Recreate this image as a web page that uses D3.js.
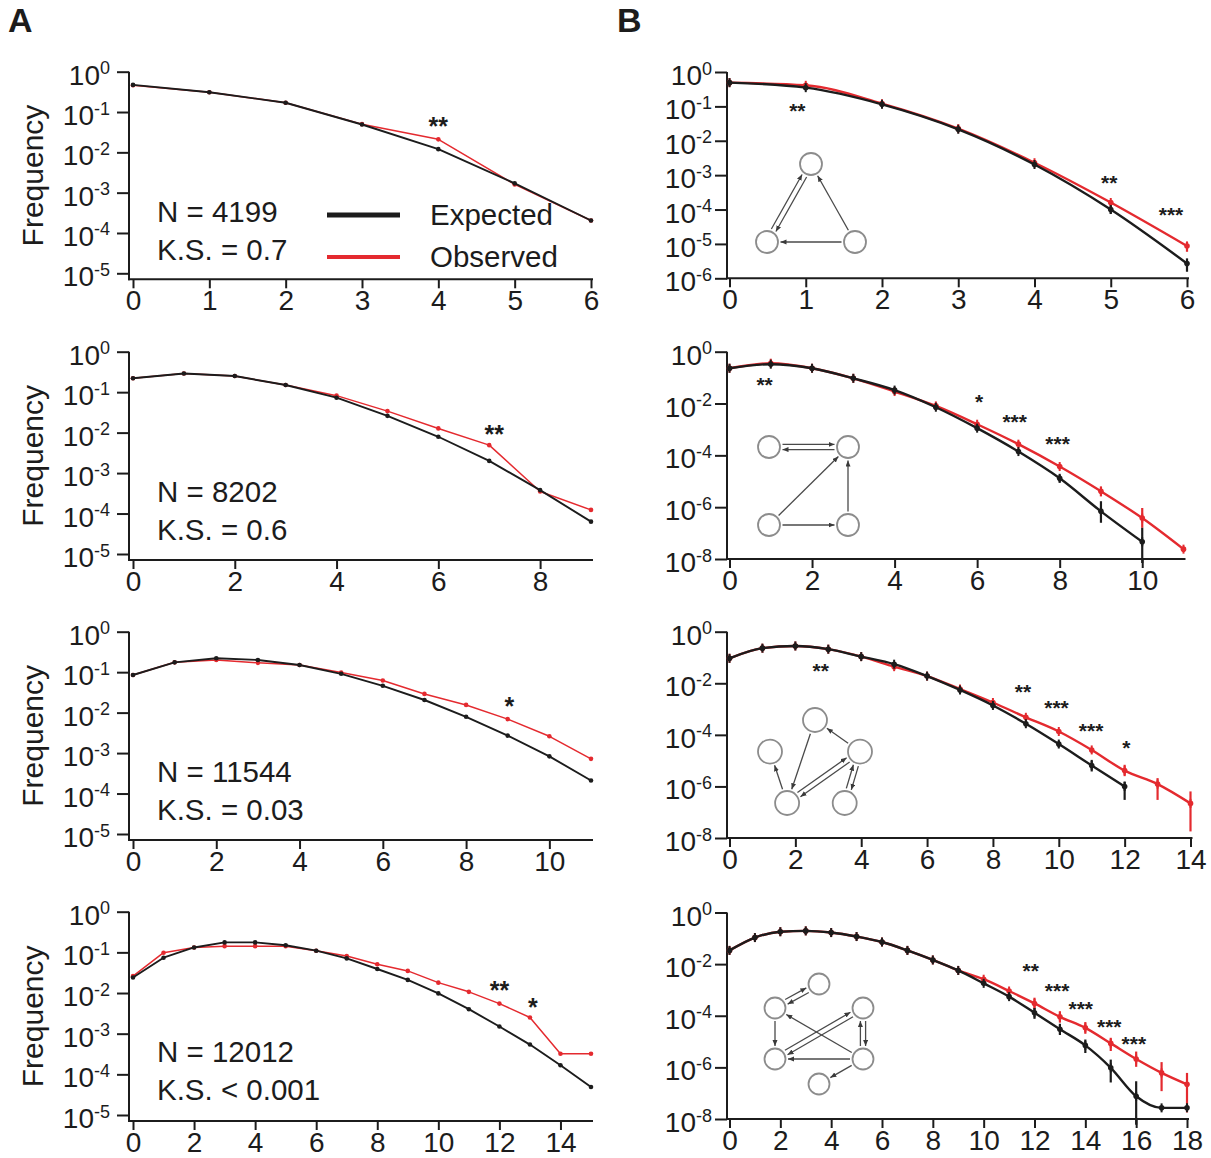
<!DOCTYPE html>
<html>
<head>
<meta charset="utf-8">
<script src="https://cdn.jsdelivr.net/npm/d3@7"></script>
<style>
  body { margin: 0; background: #fff; }
  text { font-family: "Liberation Sans", Arial, sans-serif; fill: #1c1c1c; }
</style>
</head>
<body>
<svg id="chart" width="1211" height="1158"></svg>
<script>
// ---- Data: frequency of each count, expected (null model) vs observed ----
const a1Expected = [0.47, 0.31, 0.17, 0.049, 0.012, 0.0017, 0.000204];
const a1Observed = [0.46, 0.31, 0.17, 0.050, 0.021, 0.0016, 0.000204];

const a2Expected = [0.22, 0.29, 0.25, 0.15, 0.073, 0.026, 0.0079, 0.0020, 0.00038, 0.000063];
const a2Observed = [0.22, 0.29, 0.25, 0.15, 0.082, 0.034, 0.0127, 0.0049, 0.00035, 0.000123];

const a3Expected = [0.085, 0.175, 0.22, 0.20, 0.15, 0.091, 0.046, 0.0205, 0.0079, 0.0027, 0.00083, 0.00021];
const a3Observed = [0.085, 0.175, 0.20, 0.17, 0.15, 0.098, 0.062, 0.029, 0.0155, 0.0069, 0.0026, 0.00072];

const a4Expected = [0.024, 0.074, 0.132, 0.176, 0.176, 0.15, 0.11, 0.071, 0.039, 0.021, 0.0098, 0.004, 0.0015, 0.00054, 0.000167, 0.000049];
const a4Observed = [0.026, 0.098, 0.132, 0.142, 0.142, 0.142, 0.11, 0.081, 0.051, 0.035, 0.018, 0.0107, 0.0055, 0.0025, 0.00032, 0.00032];

const b1Expected = [0.49, 0.35, 0.115, 0.0216, 0.00204, 1.0e-4, 2.7e-6];
const b1Observed = [0.49, 0.41, 0.12, 0.0225, 0.0023, 1.6e-4, 8.7e-6];

const b2Expected = [0.23, 0.33, 0.23, 0.094, 0.033, 0.0072, 0.00112, 1.4e-4, 1.3e-5, 6.9e-7, 4.6e-8];
const b2Observed = [0.23, 0.36, 0.23, 0.094, 0.029, 0.0081, 0.00159, 2.7e-4, 3.7e-5, 4.1e-6, 3.8e-7, 2.4e-8];

const b3Expected = [0.093, 0.23, 0.28, 0.21, 0.108, 0.055, 0.019, 0.0055, 0.00138, 2.7e-4, 4.4e-5, 6.5e-6, 1.0e-6];
const b3Observed = [0.093, 0.23, 0.28, 0.21, 0.108, 0.044, 0.019, 0.006, 0.0018, 4.8e-4, 1.35e-4, 2.6e-5, 4.1e-6, 1.23e-6, 2.2e-7];

const b4Expected = [0.034, 0.107, 0.18, 0.194, 0.167, 0.117, 0.072, 0.034, 0.0145, 0.0057, 0.0018, 5.5e-4, 1.3e-4, 3.0e-5, 7.1e-6, 9.6e-7, 7.6e-8, 2.7e-8, 2.7e-8];
const b4Observed = [0.034, 0.107, 0.18, 0.194, 0.167, 0.117, 0.072, 0.034, 0.0145, 0.0057, 0.0026, 9.1e-4, 3.0e-4, 9.1e-5, 3.4e-5, 8.5e-6, 2.1e-6, 6.1e-7, 2.2e-7];

// ---- Error ranges [low, high] (null where the bar is hidden by the marker) ----
const b1ExpectedErr = [null, null, null, null, null, [7.5e-5, 1.3e-4], [1.55e-6, 3.8e-6]];
const b1ObservedErr = [null, null, null, null, null, null, [5.9e-6, 1.15e-5]];

const b2ExpectedErr = [null, null, null, null, null, null, null, null, [9e-6, 1.8e-5], [2.5e-7, 1.7e-6], [7e-9, 1.6e-7]];
const b2ObservedErr = [null, null, null, null, null, null, null, null, null, [2.6e-6, 6.3e-6], [1.6e-7, 9.3e-7], null];

const b3ExpectedErr = [null, null, null, null, null, null, null, null, null, null, [3.3e-5, 5.8e-5], [3.8e-6, 1.07e-5], [3.0e-7, 1.55e-6]];
const b3ObservedErr = [null, null, null, null, null, null, null, null, null, null, null, null, [2.5e-6, 6.9e-6], [3.0e-7, 2.1e-6], [1.8e-8, 6.4e-7]];

const b4ExpectedErr = [null, null, null, null, null, null, null, null, null, null, null, null, [7.6e-5, 2.0e-4], [1.8e-5, 4.9e-5], [3.6e-6, 1.2e-5], [2.6e-7, 2.0e-6], [6e-9, 2.9e-7], null, null];
const b4ObservedErr = [null, null, null, null, null, null, null, null, null, null, null, null, [1.8e-4, 5e-4], [5.4e-5, 1.5e-4], [2.0e-5, 5.7e-5], [4.3e-6, 1.4e-5], [1.05e-6, 4.1e-6], [1.2e-7, 1.6e-6], [1.8e-8, 6.1e-7]];

// ---- Significance marks: [count, frequency level, label] ----
const a1Stars = [[4, 0.060, "**"]];
const a2Stars = [[7.1, 0.013, "**"]];
const a3Stars = [[9.04, 0.0205, "*"]];
const a4Stars = [[12.0, 0.0166, "**"], [13.1, 0.0063, "*"]];
const b1Stars = [[0.89, 0.102, "**"], [4.98, 8.1e-4, "**"], [5.79, 9.8e-5, "***"]];
const b2Stars = [[0.85, 0.085, "**"], [6.05, 0.0186, "*"], [6.91, 3.2e-3, "***"], [7.95, 4.4e-4, "***"]];
const b3Stars = [[2.77, 0.047, "**"], [8.91, 7.4e-3, "**"], [9.93, 1.7e-3, "***"], [10.98, 2.2e-4, "***"], [12.05, 4.8e-5, "*"]];
const b4Stars = [[11.85, 8.5e-3, "**"], [12.89, 1.4e-3, "***"], [13.82, 3.0e-4, "***"], [14.94, 5.9e-5, "***"], [15.91, 1.3e-5, "***"]];

// ---- Tick labels ----
const aYTicks = [1, 1e-1, 1e-2, 1e-3, 1e-4, 1e-5];
const b1YTicks = [1, 1e-1, 1e-2, 1e-3, 1e-4, 1e-5, 1e-6];
const bYTicks = [1, 1e-2, 1e-4, 1e-6, 1e-8];

const sampleSizes = ["N = 4199", "N = 8202", "N = 11544", "N = 12012"];
const ksValues = ["K.S. = 0.7", "K.S. = 0.6", "K.S. = 0.03", "K.S. < 0.001"];
const legendLabels = ["Expected", "Observed"];

const RED = "#e42a2f";
const BLACK = "#1c1c1c";

// ---- Panel geometry ----
const colA = { axisX: 129, x0: 133, x1: [591, 591, 591, 591], top: [71.7, 351.7, 631.7, 911.7], bottom: [273.3, 554, 834, 1115], gap: 6, labelX: 110 };
const colB = { axisX: 727, x0: 729.5, x1: [1187, 1183.5, 1190.5, 1187], top: [72, 351.7, 631.7, 912.5], bottom: [278.3, 559, 838, 1119], gap: 0, labelX: 712 };

const panels = [
  { col: "A", row: 0, xMax: 6, xStep: 1, yMin: 1e-5, yTicks: aYTicks, exp: a1Expected, obs: a1Observed, stars: a1Stars },
  { col: "A", row: 1, xMax: 9, xStep: 2, yMin: 1e-5, yTicks: aYTicks, exp: a2Expected, obs: a2Observed, stars: a2Stars },
  { col: "A", row: 2, xMax: 11, xStep: 2, yMin: 1e-5, yTicks: aYTicks, exp: a3Expected, obs: a3Observed, stars: a3Stars },
  { col: "A", row: 3, xMax: 15, xStep: 2, yMin: 1e-5, yTicks: aYTicks, exp: a4Expected, obs: a4Observed, stars: a4Stars },
  { col: "B", row: 0, xMax: 6, xStep: 1, yMin: 1e-6, yTicks: b1YTicks, exp: b1Expected, obs: b1Observed, expErr: b1ExpectedErr, obsErr: b1ObservedErr, stars: b1Stars },
  { col: "B", row: 1, xMax: 11, xStep: 2, yMin: 1e-8, yTicks: bYTicks, exp: b2Expected, obs: b2Observed, expErr: b2ExpectedErr, obsErr: b2ObservedErr, stars: b2Stars },
  { col: "B", row: 2, xMax: 14, xStep: 2, yMin: 1e-8, yTicks: bYTicks, exp: b3Expected, obs: b3Observed, expErr: b3ExpectedErr, obsErr: b3ObservedErr, stars: b3Stars },
  { col: "B", row: 3, xMax: 18, xStep: 2, yMin: 1e-8, yTicks: bYTicks, exp: b4Expected, obs: b4Observed, expErr: b4ExpectedErr, obsErr: b4ObservedErr, stars: b4Stars }
];

// ---- Motif diagrams drawn inside the B panels (unit-square node layout) ----
const motifs = [
  { x: 767, y: 164, w: 88, h: 78, r: 11,
    nodes: { top: [0.5, 0], left: [0, 1], right: [1, 1] },
    edges: [["left", "top", true], ["right", "top"], ["right", "left"]] },
  { x: 769, y: 447, w: 79, h: 78, r: 11,
    nodes: { tl: [0, 0], tr: [1, 0], bl: [0, 1], br: [1, 1] },
    edges: [["tl", "tr", true], ["bl", "tr"], ["br", "tr"], ["bl", "br"]] },
  { x: 770, y: 720, w: 90, h: 83, r: 12,
    nodes: { top: [0.5, 0], left: [0, 0.38], right: [1, 0.38], bl: [0.19, 1], br: [0.83, 1] },
    edges: [["right", "top"], ["top", "bl"], ["bl", "left"], ["bl", "right", true], ["right", "br", true]] },
  { x: 775, y: 984, w: 88, h: 100, r: 10.5,
    nodes: { top: [0.5, 0], ul: [0, 0.24], ur: [1, 0.24], ll: [0, 0.75], lr: [1, 0.75], bot: [0.5, 1] },
    edges: [["ul", "top", true], ["ul", "ll"], ["lr", "ul"], ["ll", "ur", true], ["ur", "lr", true], ["lr", "ll"], ["lr", "bot"]] }
];

const svg = d3.select("#chart");

const defs = svg.append("defs");
defs.append("marker")
  .attr("id", "arrowhead")
  .attr("markerUnits", "userSpaceOnUse")
  .attr("markerWidth", 7).attr("markerHeight", 6)
  .attr("refX", 6).attr("refY", 2.5)
  .attr("orient", "auto-start-reverse")
  .append("path").attr("d", "M0,0 L6,2.5 L0,5 Z").attr("fill", "#3a3a3a");

function drawPanel(p) {
  const L = p.col === "A" ? colA : colB;
  const top = L.top[p.row], bottom = L.bottom[p.row];
  const xEnd = L.x1[p.row];
  const x = d3.scaleLinear().domain([0, p.xMax]).range([L.x0, xEnd]);
  const y = d3.scaleLog().domain([p.yMin, 1]).range([bottom, top]);
  const axisY = bottom + L.gap;
  const g = svg.append("g");

  // Axis lines
  g.append("line").attr("x1", L.axisX).attr("x2", L.axisX).attr("y1", top).attr("y2", axisY + 1)
    .attr("stroke", BLACK).attr("stroke-width", 2);
  g.append("line").attr("x1", L.axisX - 1).attr("x2", xEnd + 2).attr("y1", axisY).attr("y2", axisY)
    .attr("stroke", BLACK).attr("stroke-width", 2);

  // Y axis ticks with power-of-ten labels
  g.append("g").attr("transform", `translate(${L.axisX},0)`)
    .call(d3.axisLeft(y).tickValues(p.yTicks).tickSize(12).tickFormat(() => ""))
    .call(s => { s.select(".domain").remove(); s.selectAll("line").attr("stroke", BLACK).attr("stroke-width", 2); });
  p.yTicks.forEach(v => {
    const t = g.append("text").attr("x", L.labelX).attr("y", y(v) + 13)
      .attr("text-anchor", "end").attr("font-size", 28);
    t.append("tspan").text("10");
    t.append("tspan").attr("dy", -10.5).attr("font-size", 18).text(String(Math.round(Math.log10(v))));
  });

  // X axis ticks
  g.append("g").attr("transform", `translate(0,${axisY})`)
    .call(d3.axisBottom(x).tickValues(d3.range(0, p.xMax + 0.001, p.xStep)).tickSize(9).tickFormat(d3.format("d")))
    .call(s => {
      s.select(".domain").remove();
      s.selectAll("line").attr("stroke", BLACK).attr("stroke-width", 2);
      s.selectAll("text").attr("font-size", 28).attr("font-family", '"Liberation Sans", Arial, sans-serif')
        .attr("fill", BLACK).attr("y", 31).attr("dy", 0);
    });

  const curve = p.col === "B" ? d3.curveMonotoneX : d3.curveLinear;
  const line = d3.line().x((d, i) => x(i)).y(d => y(d)).curve(curve);
  const lw = p.col === "B" ? 2.4 : 1.9;

  const series = [
    { vals: p.obs, err: p.obsErr, color: RED, w: p.col === "B" ? lw : 1.5 },
    { vals: p.exp, err: p.expErr, color: BLACK, w: lw }
  ];
  series.forEach(s => {
    g.append("path").datum(s.vals).attr("d", line).attr("fill", "none")
      .attr("stroke", s.color).attr("stroke-width", s.w).attr("stroke-linejoin", "round");
    if (s.err) {
      s.err.forEach((e, i) => {
        if (!e) return;
        g.append("line").attr("x1", x(i)).attr("x2", x(i)).attr("y1", y(e[0])).attr("y2", y(e[1]))
          .attr("stroke", s.color).attr("stroke-width", 2.2);
      });
    }
    g.selectAll(null).data(s.vals).join("circle")
      .attr("cx", (d, i) => x(i)).attr("cy", d => y(d)).attr("r", p.col === "B" ? 2.8 : 2.3)
      .attr("fill", s.color);
    if (p.col === "B") {
      g.selectAll(null).data(s.vals).join("line")
        .attr("x1", (d, i) => x(i)).attr("x2", (d, i) => x(i))
        .attr("y1", d => y(d) - 4.5).attr("y2", d => y(d) + 4.5)
        .attr("stroke", s.color).attr("stroke-width", 2);
    }
  });

  // Significance stars
  const fs = p.col === "B" ? 21 : 25;
  p.stars.forEach(([sx, sy, label]) => {
    g.append("text").attr("x", x(sx)).attr("y", y(sy) + fs * 0.58)
      .attr("text-anchor", "middle").attr("font-size", fs).attr("font-weight", "bold").text(label);
  });

  if (p.col === "A") {
    g.append("text").attr("transform", `translate(43,${(top + axisY) / 2}) rotate(-90)`)
      .attr("text-anchor", "middle").attr("font-size", 30).text("Frequency");
    g.append("text").attr("x", 157).attr("y", 222 + p.row * 280).attr("font-size", 29.5).text(sampleSizes[p.row]);
    g.append("text").attr("x", 157).attr("y", 260 + p.row * 280).attr("font-size", 29.5).text(ksValues[p.row]);
  }
}

panels.forEach(drawPanel);

// Legend in the first panel
const legend = svg.append("g");
[[BLACK, 215, 5, 225], [RED, 257, 4, 266.5]].forEach(([c, ly, w, ty], i) => {
  legend.append("line").attr("x1", 327).attr("x2", 400).attr("y1", ly).attr("y2", ly)
    .attr("stroke", c).attr("stroke-width", w);
  legend.append("text").attr("x", 430).attr("y", ty).attr("font-size", 29.5).text(legendLabels[i]);
});

// Motif diagrams
motifs.forEach(m => {
  const sx = d3.scaleLinear().domain([0, 1]).range([m.x, m.x + m.w]);
  const sy = d3.scaleLinear().domain([0, 1]).range([m.y, m.y + m.h]);
  const pos = {};
  Object.entries(m.nodes).forEach(([k, [u, v]]) => { pos[k] = [sx(u), sy(v)]; });
  const g = svg.append("g");
  m.edges.forEach(([a, b, dbl]) => {
    const [x1, y1] = pos[a], [x2, y2] = pos[b];
    const dx = x2 - x1, dy = y2 - y1, len = Math.hypot(dx, dy);
    const ux = dx / len, uy = dy / len, nx = -uy, ny = ux;
    const offs = dbl ? [-2.6, 2.6] : [0];
    const r = m.r + 2.5;
    offs.forEach((o, i) => {
      const ln = g.append("line")
        .attr("x1", x1 + ux * r + nx * o).attr("y1", y1 + uy * r + ny * o)
        .attr("x2", x2 - ux * r + nx * o).attr("y2", y2 - uy * r + ny * o)
        .attr("stroke", "#4a4a4a").attr("stroke-width", 1.3);
      if (dbl && i === 1) ln.attr("marker-start", "url(#arrowhead)");
      else ln.attr("marker-end", "url(#arrowhead)");
    });
  });
  Object.values(pos).forEach(([cx, cy]) => {
    g.append("circle").attr("cx", cx).attr("cy", cy).attr("r", m.r)
      .attr("fill", "#fff").attr("stroke", "#8c8c8c").attr("stroke-width", 1.8);
  });
});

// Panel letters
svg.append("text").attr("x", 8).attr("y", 32).attr("font-size", 34).attr("font-weight", "bold").text("A");
svg.append("text").attr("x", 617).attr("y", 32).attr("font-size", 34).attr("font-weight", "bold").text("B");
</script>
</body>
</html>
